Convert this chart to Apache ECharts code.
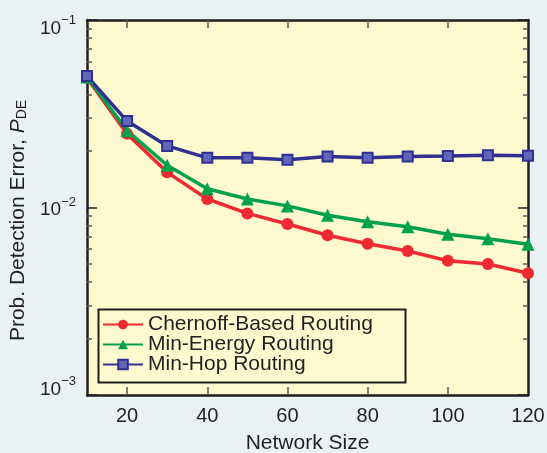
<!DOCTYPE html>
<html>
<head>
<meta charset="utf-8">
<script src="https://cdn.jsdelivr.net/npm/echarts@6/dist/echarts.min.js"></script>
<style>
html,body{margin:0;padding:0;background:#e9f1f3;}
#c{width:547px;height:453px;}
</style>
</head>
<body>
<div id="c"></div>
<script>
const networkSize = [10, 20, 30, 40, 50, 60, 70, 80, 90, 100, 110, 120];
const chernoff = [0.0490, 0.0247, 0.0154, 0.0111, 0.0093, 0.00817, 0.00711, 0.00641, 0.00586, 0.0052, 0.0050, 0.00446];
const minEnergy = [0.0497, 0.0257, 0.0168, 0.0126, 0.0111, 0.0102, 0.0091, 0.0084, 0.0079, 0.0072, 0.00682, 0.00637];
const minHop = [0.0502, 0.0289, 0.0213, 0.0184, 0.0184, 0.0180, 0.0187, 0.0184, 0.0187, 0.0188, 0.0190, 0.0189];
const xTickLabels = [20, 40, 60, 80, 100, 120];
const xTicks = [20, 40, 60, 80, 100];
const seriesNames = ['Chernoff-Based Routing', 'Min-Energy Routing', 'Min-Hop Routing'];

const minorLog = [];
[-3, -2].forEach(d => { for (let k = 2; k <= 9; k++) minorLog.push(d + Math.log10(k)); });

const ink = '#231f20';
const font = 'Liberation Sans, Arial, Helvetica, sans-serif';

function pairs(vals) { return networkSize.map((x, i) => [x, vals[i]]); }

const chart = echarts.init(document.getElementById('c'), null, {renderer: 'canvas'});
const xBase = {
  type: 'value', min: 10, max: 120,
  splitLine: {show: false},
  axisLine: {show: true, onZero: false, lineStyle: {color: ink, width: 2.5}},
  axisTick: {show: true, inside: true, length: 8, customValues: xTicks, lineStyle: {color: '#555', width: 1.5}}
};
const yLogBase = {
  type: 'log', logBase: 10, min: 0.001, max: 0.1,
  splitLine: {show: false},
  axisLine: {show: true, onZero: false, lineStyle: {color: ink, width: 2.5}},
  axisTick: {show: true, inside: true, length: 10, lineStyle: {color: ink, width: 1.5}},
  minorTick: {show: false}
};
const yMinorBase = {
  type: 'value', min: -3, max: -1,
  splitLine: {show: false},
  axisLine: {show: false},
  axisLabel: {show: false},
  axisTick: {show: true, inside: true, length: 5, customValues: minorLog, lineStyle: {color: '#555', width: 1.5}}
};

chart.setOption({
  backgroundColor: '#e9f1f3',
  animation: false,
  textStyle: {fontFamily: font},
  grid: {left: 87, right: 19, top: 20, bottom: 58, show: true, backgroundColor: '#fef9cf', borderWidth: 0, outerBoundsMode: 'none', containLabel: false},
  xAxis: [
    Object.assign({}, xBase, {
      position: 'bottom',
      axisLabel: {show: true, customValues: xTickLabels, fontSize: 20, color: ink, margin: 11, fontFamily: font},
      name: 'Network Size', nameLocation: 'middle', nameGap: 38,
      nameTextStyle: {fontSize: 21, color: ink, fontFamily: font}
    }),
    Object.assign({}, xBase, {position: 'top', axisLabel: {show: false}})
  ],
  yAxis: [
    Object.assign({}, yLogBase, {
      position: 'left',
      axisLabel: {
        show: true, margin: 11, fontFamily: font,
        formatter: function (v) {
          const e = Math.round(Math.log10(v));
          const core = '{b|10}{s|\u2212' + Math.abs(e) + '}';
          if (e === -1) return '{sa| }\n' + core;
          if (e === -3) return core + '\n{sb| }';
          return core;
        },
        rich: {
          b: {fontSize: 19, color: ink, fontFamily: font, verticalAlign: 'bottom', lineHeight: 24},
          s: {fontSize: 13, color: ink, fontFamily: font, verticalAlign: 'top', lineHeight: 24},
          sa: {fontSize: 6, lineHeight: 12},
          sb: {fontSize: 6, lineHeight: 16}
        }
      },
      name: '{n|Prob. Detection Error, }{i|P}{d|DE}',
      nameLocation: 'middle', nameGap: 57, nameRotate: 90,
      nameTextStyle: {
        padding: [0, 26, 0, 0],
        rich: {
          n: {fontSize: 21, color: ink, fontFamily: font, verticalAlign: 'bottom', lineHeight: 25},
          i: {fontSize: 21, color: ink, fontFamily: font, fontStyle: 'italic', verticalAlign: 'bottom', lineHeight: 25},
          d: {fontSize: 14, color: ink, fontFamily: font, verticalAlign: 'bottom', lineHeight: 20}
        }
      }
    }),
    Object.assign({}, yLogBase, {position: 'right', axisLabel: {show: false}}),
    Object.assign({}, yMinorBase, {position: 'left'}),
    Object.assign({}, yMinorBase, {position: 'right'})
  ],
  legend: {
    orient: 'vertical', left: 102, top: 314, padding: 0,
    itemWidth: 40, itemHeight: 12, itemGap: -1,
    textStyle: {fontSize: 21, color: ink, fontFamily: font, lineHeight: 18},
    data: seriesNames
  },
  graphic: [{
    type: 'rect', left: 96, top: 307, z: 5, silent: true,
    shape: {width: 307, height: 73},
    style: {fill: 'none', stroke: ink, lineWidth: 2}
  }],
  series: [
    {
      name: seriesNames[0], type: 'line', data: pairs(chernoff),
      symbol: 'circle', symbolSize: 12,
      lineStyle: {color: '#ee2a30', width: 3.5},
      itemStyle: {color: '#ee2a30'}
    },
    {
      name: seriesNames[1], type: 'line', data: pairs(minEnergy),
      symbol: 'triangle', symbolSize: 13,
      lineStyle: {color: '#00a14b', width: 3.5},
      itemStyle: {color: '#00a14b'}
    },
    {
      name: seriesNames[2], type: 'line', data: pairs(minHop),
      symbol: 'rect', symbolSize: 10,
      lineStyle: {color: '#2e3192', width: 3.5},
      itemStyle: {color: '#6266b8', borderColor: '#2e3192', borderWidth: 2}
    }
  ]
});
</script>
</body>
</html>
